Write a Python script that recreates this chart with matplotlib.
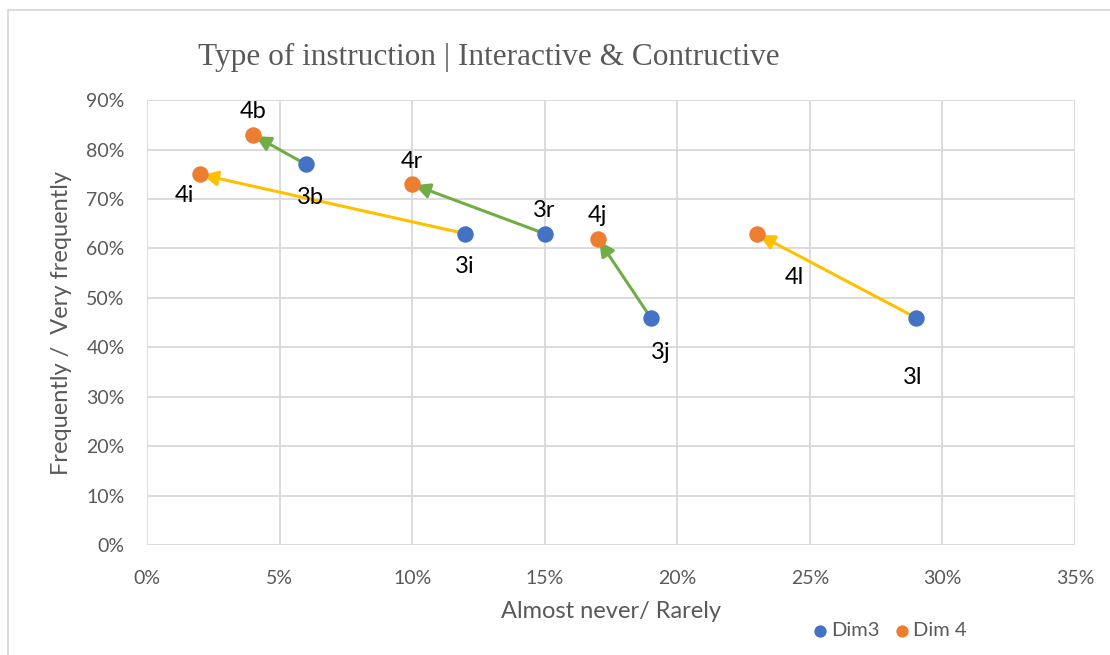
import matplotlib
matplotlib.use('Agg')
from matplotlib import pyplot as plt
from matplotlib.patches import Rectangle
from matplotlib.ticker import PercentFormatter

# data (fractions)
dim3_names = ['3b', '3i', '3r', '3j', '3l']
dim3_x = [0.06, 0.12, 0.15, 0.19, 0.29]
dim3_y = [0.77, 0.63, 0.63, 0.46, 0.46]

dim4_names = ['4b', '4i', '4r', '4j', '4l']
dim4_x = [0.04, 0.02, 0.10, 0.17, 0.23]
dim4_y = [0.83, 0.75, 0.73, 0.62, 0.63]

arrow_colors = ['#70AD47', '#FFC000', '#70AD47', '#70AD47', '#FFC000']

# label offsets in points (dx, dy)
dim3_offsets = [(3, -31), (0, -31), (0, 9), (7, -33), (-2, -51)]
dim4_offsets = [(0, 9), (-11, -23), (0, 9), (0, 9), (27, -39)]

plt.rcParams['font.family'] = ['Lato', 'DejaVu Sans']

fig = plt.figure(figsize=(11.1, 6.55), dpi=100)
ax = fig.add_axes([0.1324, 0.168, 0.836, 0.679])

ax.set_xlim(0, 0.35)
ax.set_ylim(0, 0.90)
ax.set_xticks([i * 0.05 for i in range(8)])
ax.set_yticks([i * 0.10 for i in range(10)])
ax.xaxis.set_major_formatter(PercentFormatter(1.0, decimals=0))
ax.yaxis.set_major_formatter(PercentFormatter(1.0, decimals=0))
ax.grid(True, color='#D9D9D9', linewidth=1.3)
ax.set_axisbelow(True)
for s in ax.spines.values():
    s.set_visible(False)
ax.tick_params(length=0, labelsize=14, colors='#595959')
ax.tick_params(axis='x', pad=18)
ax.tick_params(axis='y', pad=16)

for i in range(len(dim3_x)):
    ax.annotate('', xy=(dim4_x[i], dim4_y[i]), xytext=(dim3_x[i], dim3_y[i]),
                arrowprops=dict(arrowstyle='-|>,head_length=0.9,head_width=0.45',
                                color=arrow_colors[i], lw=2.2,
                                shrinkA=0, shrinkB=2), zorder=2)

ax.scatter(dim3_x, dim3_y, s=140, color='#4472C4', zorder=3, label='Dim3',
           linewidths=0)
ax.scatter(dim4_x, dim4_y, s=140, color='#ED7D31', zorder=3, label='Dim 4',
           linewidths=0)

for i in range(len(dim3_x)):
    ax.annotate(dim3_names[i], (dim3_x[i], dim3_y[i]), xytext=dim3_offsets[i],
                textcoords='offset points', ha='center', va='bottom',
                fontsize=17, color='black')
    ax.annotate(dim4_names[i], (dim4_x[i], dim4_y[i]), xytext=dim4_offsets[i],
                textcoords='offset points', ha='center', va='bottom',
                fontsize=17, color='black')

ax.set_xlabel('Almost never/ Rarely', fontsize=17, color='#595959', labelpad=10)
ax.set_ylabel('Frequently /  Very frequently', fontsize=17, color='#595959',
              labelpad=10)

fig.text(0.44, 0.912, 'Type of instruction | Interactive & Contructive',
         ha='center', va='center', fontsize=22.5, color='#595959',
         family='Liberation Serif')

leg = fig.legend(loc='center', bbox_to_anchor=(0.80, 0.037), ncol=2, frameon=False,
                 fontsize=14.5, handletextpad=0.05, columnspacing=0.6,
                 handlelength=1.0, markerscale=0.75, labelcolor='#595959')

fig.add_artist(Rectangle((8 / 1110, -0.01), 1.5, (645 / 655) + 0.01,
                         transform=fig.transFigure, fill=False,
                         edgecolor='#D9D9D9', linewidth=1.3))

fig.savefig('out.png', dpi=100)
